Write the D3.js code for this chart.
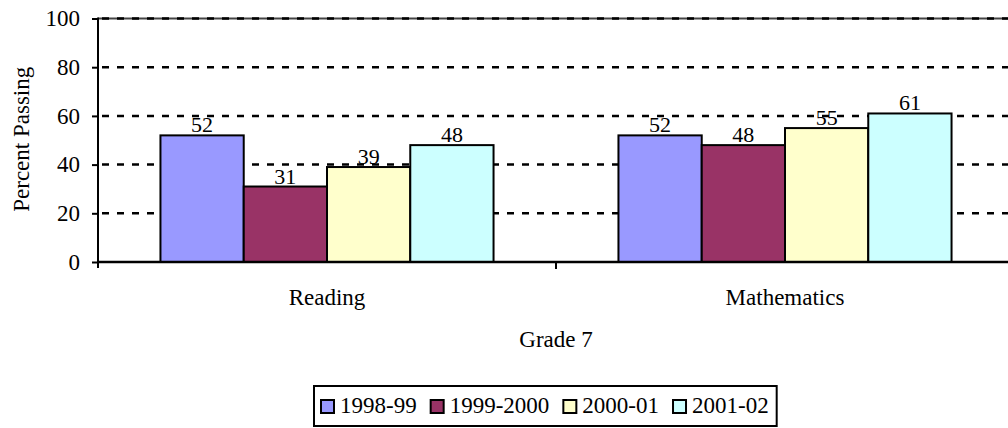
<!DOCTYPE html>
<html>
<head>
<meta charset="utf-8">
<script src="https://cdn.jsdelivr.net/npm/d3@7"></script>
<style>
  body { margin: 0; background: #fff; }
  svg text { font-family: "Liberation Serif", serif; fill: #000; }
</style>
</head>
<body>
<svg id="chart" width="1008" height="428"></svg>
<script>
const categories = ["Reading", "Mathematics"];
const seriesNames = ["1998-99", "1999-2000", "2000-01", "2001-02"];
const values = {
  "1998-99":   [52, 52],
  "1999-2000": [31, 48],
  "2000-01":   [39, 55],
  "2001-02":   [48, 61]
};
const yTicks = [0, 20, 40, 60, 80, 100];
const colors = ["#9999FF", "#993366", "#FFFFCC", "#CCFFFF"];

const svg = d3.select("#chart");
const margin = {left: 98, top: 18.5, right: 1014, bottom: 262};
const fontSize = "23px";
const serif = "'Liberation Serif', serif";

const x0 = d3.scaleBand().domain(categories).range([margin.left, margin.right]);
const x1 = d3.scaleBand().domain(seriesNames).range([0, x0.bandwidth()]).paddingOuter(0.75);
const y = d3.scaleLinear().domain([0, 100]).range([margin.bottom, margin.top]);

// gridlines
svg.append("line")
    .attr("x1", margin.left).attr("x2", 1008)
    .attr("y1", y(100)).attr("y2", y(100))
    .attr("stroke", "#444").attr("stroke-width", 2);
svg.selectAll(".grid").data(yTicks.filter(d => d > 0)).enter().append("line")
    .attr("class", "grid")
    .attr("x1", margin.left).attr("x2", 1008)
    .attr("y1", d => y(d)).attr("y2", d => y(d))
    .attr("stroke", "#000").attr("stroke-width", 2.5)
    .attr("stroke-dasharray", "7,8")
    .attr("stroke-dashoffset", -4);

// bars
categories.forEach((cat, ci) => {
    const g = svg.append("g").attr("transform", "translate(" + x0(cat) + ",0)");
    seriesNames.forEach((s, si) => {
        const v = values[s][ci];
        g.append("rect")
            .attr("x", x1(s))
            .attr("y", y(v))
            .attr("width", x1.bandwidth())
            .attr("height", y(0) - y(v))
            .attr("fill", colors[si])
            .attr("stroke", "#000")
            .attr("stroke-width", 2);
        g.append("text")
            .attr("x", x1(s) + x1.bandwidth() / 2)
            .attr("y", y(v) - 3)
            .attr("text-anchor", "middle")
            .style("font-family", serif)
            .style("font-size", "22px")
            .text(v);
    });
});

// y axis
const yAxis = d3.axisLeft(y).tickValues(yTicks).tickSize(6).tickPadding(12);
const yg = svg.append("g").attr("transform", "translate(" + margin.left + ",0)").call(yAxis);
yg.attr("font-family", null).attr("font-size", null);
yg.select(".domain").remove();
yg.selectAll(".tick line").attr("stroke", "#000").attr("stroke-width", 2);
yg.selectAll(".tick text").style("font-size", fontSize).style("font-family", serif).attr("fill", "#000");
svg.append("line")
    .attr("x1", margin.left).attr("x2", margin.left)
    .attr("y1", y(100) - 1).attr("y2", y(0) + 6)
    .attr("stroke", "#000").attr("stroke-width", 2);

// x axis
svg.append("line")
    .attr("x1", margin.left).attr("x2", 1008)
    .attr("y1", y(0)).attr("y2", y(0))
    .attr("stroke", "#000").attr("stroke-width", 2.5);
svg.selectAll(".xtick").data(categories.slice(1)).enter().append("line")
    .attr("x1", d => x0(d)).attr("x2", d => x0(d))
    .attr("y1", y(0)).attr("y2", y(0) + 7)
    .attr("stroke", "#000").attr("stroke-width", 2);
svg.selectAll(".xlabel").data(categories).enter().append("text")
    .attr("x", d => x0(d) + x0.bandwidth() / 2)
    .attr("y", 305)
    .attr("text-anchor", "middle")
    .style("font-family", serif)
    .style("font-size", fontSize)
    .text(d => d);

// axis titles
svg.append("text")
    .attr("x", (margin.left + margin.right) / 2)
    .attr("y", 347)
    .attr("text-anchor", "middle")
    .style("font-family", serif)
    .style("font-size", fontSize)
    .text("Grade 7");
svg.append("text")
    .attr("transform", "translate(29," + (y(50) - 1) + ") rotate(-90)")
    .attr("text-anchor", "middle")
    .style("font-family", serif)
    .style("font-size", fontSize)
    .text("Percent Passing");

// legend
const legend = svg.append("g");
const legendBox = legend.append("rect")
    .attr("fill", "#fff").attr("stroke", "#000").attr("stroke-width", 2);
let lx = 321;
seriesNames.forEach((s, i) => {
    legend.append("rect")
        .attr("x", lx).attr("y", 400)
        .attr("width", 13).attr("height", 13)
        .attr("fill", colors[i]).attr("stroke", "#000").attr("stroke-width", 2);
    const t = legend.append("text")
        .attr("x", lx + 19).attr("y", 413)
        .style("font-family", serif)
        .style("font-size", fontSize)
        .text(s);
    lx += 19 + t.node().getComputedTextLength() + 14;
});
legendBox.attr("x", 314).attr("y", 386).attr("width", lx - 14 + 8 - 314).attr("height", 40);
</script>
</body>
</html>
